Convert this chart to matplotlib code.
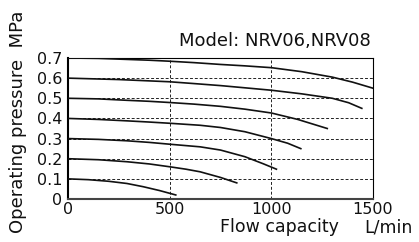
import numpy as np
import matplotlib
matplotlib.use("Agg")
import matplotlib.pyplot as plt

plt.rcParams['font.family'] = ['DejaVu Sans']

# set pressure (MPa) -> curve points
set_pressures = [0.7, 0.6, 0.5, 0.4, 0.3, 0.2, 0.1]
flow_07 = [0, 150, 290, 400, 500, 620, 750, 870, 1000, 1150, 1300, 1400, 1500]
pres_07 = [0.700, 0.698, 0.693, 0.689, 0.684, 0.677, 0.668, 0.661, 0.652, 0.632, 0.605, 0.580, 0.550]
flow_06 = [0, 250, 500, 620, 750, 870, 1000, 1150, 1300, 1380, 1445]
pres_06 = [0.600, 0.593, 0.582, 0.573, 0.563, 0.552, 0.540, 0.522, 0.500, 0.478, 0.450]
flow_05 = [0, 150, 290, 400, 500, 620, 750, 870, 1000, 1130, 1275]
pres_05 = [0.500, 0.497, 0.490, 0.485, 0.479, 0.471, 0.460, 0.446, 0.427, 0.395, 0.350]
flow_04 = [0, 150, 290, 400, 500, 650, 750, 870, 1000, 1080, 1145]
pres_04 = [0.400, 0.395, 0.388, 0.382, 0.376, 0.366, 0.355, 0.334, 0.300, 0.277, 0.250]
flow_03 = [0, 150, 290, 400, 500, 650, 750, 870, 960, 1025]
pres_03 = [0.300, 0.296, 0.289, 0.281, 0.272, 0.259, 0.243, 0.210, 0.175, 0.148]
flow_02 = [0, 150, 290, 400, 500, 580, 650, 750, 830]
pres_02 = [0.200, 0.195, 0.185, 0.174, 0.160, 0.148, 0.135, 0.107, 0.080]
flow_01 = [0, 100, 200, 290, 370, 450, 530]
pres_01 = [0.100, 0.096, 0.088, 0.077, 0.061, 0.042, 0.020]

curves = [(flow_07, pres_07), (flow_06, pres_06), (flow_05, pres_05),
          (flow_04, pres_04), (flow_03, pres_03), (flow_02, pres_02),
          (flow_01, pres_01)]

x_ticks = [0, 500, 1000, 1500]
y_ticks = [0, 0.1, 0.2, 0.3, 0.4, 0.5, 0.6, 0.7]
y_tick_labels = ['0', '0.1', '0.2', '0.3', '0.4', '0.5', '0.6', '0.7']

fig = plt.figure(figsize=(4.19, 2.42), dpi=100)
ax = fig.add_axes([68 / 419, 1 - 199 / 242, 305 / 419, 141 / 242])

# dashed grid
for yv in y_ticks[1:-1]:
    ax.axhline(yv, color='#222222', lw=0.7, dashes=(3, 2), zorder=1)
for xv in x_ticks[1:-1]:
    ax.axvline(xv, color='#222222', lw=0.7, dashes=(3, 2), zorder=1)

for fl, pr in curves:
    ax.plot(fl, pr, color='#111111', lw=1.2, zorder=3)

ax.set_xlim(0, 1500)
ax.set_ylim(0, 0.7)
ax.set_xticks(x_ticks)
ax.set_xticklabels([str(v) for v in x_ticks])
ax.set_yticks(y_ticks)
ax.set_yticklabels(y_tick_labels)
ax.tick_params(length=0, labelsize=11.5, colors='#111111')
ax.tick_params(axis='x', pad=2)
ax.tick_params(axis='y', pad=4)

ax.spines['left'].set_linewidth(1.5)
ax.spines['bottom'].set_linewidth(1.5)
ax.spines['bottom'].set_color('#444444')
ax.spines['top'].set_linewidth(0.8)
ax.spines['right'].set_linewidth(0.8)

fig.text(371 / 419, 1 - 46 / 242, 'Model: NRV06,NRV08', ha='right',
         va='baseline', fontsize=13, color='#111111')
fig.text(18.5 / 419, 1 - 11 / 242, 'Operating pressure  MPa', rotation=90,
         ha='center', va='top', fontsize=13, color='#111111')
fig.text(279 / 419, 1 - 232 / 242, 'Flow capacity', ha='center',
         va='baseline', fontsize=12.5, color='#111111')
fig.text(413 / 419, 1 - 232 / 242, 'L/min', ha='right',
         va='baseline', fontsize=12.5, color='#111111')

fig.savefig('out.png', dpi=100)
